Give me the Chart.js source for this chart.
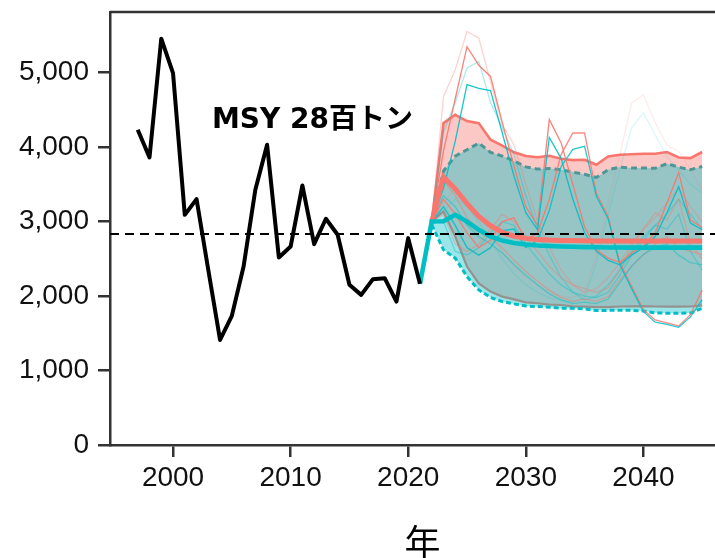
<!DOCTYPE html>
<html>
<head>
<meta charset="utf-8">
<script src="https://cdn.jsdelivr.net/npm/chart.js@4/dist/chart.umd.min.js"></script>
<style>
  html, body { margin: 0; padding: 0; background: #fff; width: 715px; height: 558px; overflow: hidden; }
  canvas { display: block; }
</style>
</head>
<body>
<canvas id="chart" width="735" height="558"></canvas>
<script>
// Observed catch (tonnes), 1997-2021
const histYears = [1997, 1998, 1999, 2000, 2001, 2002, 2003, 2004, 2005, 2006, 2007, 2008, 2009,
                   2010, 2011, 2012, 2013, 2014, 2015, 2016, 2017, 2018, 2019, 2020, 2021];
const histCatch = [4234, 3862, 5457, 4995, 3091, 3302, 2350, 1411, 1734, 2397, 3427, 4032, 2518,
                   2665, 3485, 2697, 3038, 2823, 2151, 2016, 2227, 2240, 1926, 2778, 2164];

// Projection years
const projYears = [2022, 2023, 2024, 2025, 2026, 2027, 2028, 2029, 2030, 2031, 2032, 2033,
                   2034, 2035, 2036, 2037, 2038, 2039, 2040, 2041, 2042, 2043, 2044, 2045];

// Teal scenario: median starts from the last observed year
const tealMedianYears = [2021].concat(projYears);
const tealMedian = [2164, 3001, 3005, 3091, 3000, 2890, 2800, 2745, 2712, 2692, 2680, 2672, 2666,
                    2662, 2658, 2655, 2653, 2652, 2651, 2650, 2650, 2650, 2650, 2650, 2650];
const tealUpper = [3001, 3680, 3880, 3965, 4055, 3930, 3880, 3815, 3735, 3705, 3714, 3696,
                   3665, 3635, 3593, 3696, 3732, 3720, 3720, 3716, 3777, 3732, 3696, 3741];
const tealLower = [2957, 2621, 2509, 2262, 2083, 1980, 1926, 1895, 1868, 1859, 1850, 1837,
                   1835, 1830, 1805, 1808, 1810, 1808, 1800, 1775, 1770, 1770, 1772, 1837];

// Red scenario
const redMedian = [3001, 3600, 3440, 3240, 3069, 2945, 2855, 2805, 2775, 2760, 2752, 2748,
                   2745, 2742, 2740, 2740, 2740, 2740, 2740, 2740, 2740, 2740, 2740, 2740];
const redUpper = [3001, 4323, 4435, 4350, 4323, 4100, 4020, 3930, 3880, 3865, 3884, 3845,
                  3826, 3831, 3763, 3875, 3898, 3905, 3911, 3911, 3935, 3862, 3853, 3935];
const redLower = [3001, 3136, 2800, 2397, 2170, 2060, 1993, 1955, 1915, 1904, 1885, 1880,
                  1862, 1858, 1851, 1851, 1860, 1862, 1865, 1860, 1858, 1858, 1860, 1875];

// Example simulation runs (red / teal pairs)
const redRun1 = [3001, 3950, 4650, 5350, 5100, 4950, 4330, 3740, 3200, 2950, 4370, 4060,
                 3500, 2930, 2620, 2510, 2450, 2580, 2670, 2850, 3250, 3660, 3020, 2920];
const tealRun1 = [3001, 3450, 4080, 4840, 4790, 4760, 4190, 3610, 3120, 2890, 4130, 3850,
                  3300, 2850, 2600, 2480, 2420, 2550, 2650, 2800, 3120, 3470, 2980, 2890];
const redRun2 = [3001, 3300, 3100, 2850, 2650, 2750, 3000, 3050, 2750, 2850, 3300, 3900,
                 4190, 4190, 3380, 3070, 2450, 2130, 1815, 1680, 1640, 1600, 1750, 2080];
const tealRun2 = [3001, 3200, 2950, 2650, 2550, 2650, 2880, 2900, 2650, 2750, 3150, 3740,
                  3970, 4010, 3340, 3040, 2420, 2100, 1790, 1650, 1620, 1580, 1720, 1950];
const redRun3 = [3001, 4680, 5040, 5555, 5466, 4880, 4300, 4030, 3500, 3000, 2650, 2350,
                 2150, 2050, 2100, 2250, 2450, 2700, 2900, 3050, 3250, 3450, 3200, 3000];
const tealRun3 = [3001, 4200, 4600, 5063, 5152, 4600, 4260, 3898, 3350, 2900, 2550, 2250,
                  2050, 1950, 2000, 2150, 2350, 2600, 2800, 2950, 3100, 3300, 3100, 2900];
const redRun4 = [3001, 3250, 3450, 3300, 3100, 2850, 2600, 2400, 2250, 2150, 2050, 2000,
                 1980, 2050, 2550, 3250, 3900, 4593, 4704, 4328, 4032, 3942, 3700, 3427];
const tealRun4 = [3001, 3150, 3300, 3200, 3000, 2750, 2500, 2300, 2150, 2050, 1980, 1940,
                  1920, 1980, 2450, 3100, 3700, 4260, 4462, 4167, 3875, 3690, 3500, 3380];
const redRun5 = [3001, 3550, 3350, 3050, 2900, 2780, 2650, 2480, 2330, 2200, 2080, 1980,
                 1930, 1960, 1930, 1990, 2220, 2400, 2550, 2700, 2800, 2650, 2600, 2560];
const tealRun5 = [3001, 3350, 3200, 2950, 2800, 2700, 2580, 2420, 2280, 2150, 2030, 1950,
                  1900, 1920, 1900, 1960, 2180, 2400, 2560, 2650, 2700, 2550, 2450, 2420];
const redRun6 = [3001, 3100, 2700, 2600, 2700, 2900, 3100, 3000, 2800, 2600, 2400, 2250,
                 2150, 2100, 2050, 2110, 2350, 2665, 2900, 3118, 3024, 3300, 2700, 2500];
const tealRun6 = [3001, 3000, 2600, 2550, 2650, 2850, 3000, 2950, 2700, 2500, 2300, 2150,
                  2050, 2000, 1980, 2050, 2280, 2550, 2750, 2950, 2900, 3100, 2600, 2350];

// Maximum sustainable yield (tonnes)
const MSY = 2835;

// Axis ticks
const xTicks = [2000, 2010, 2020, 2030, 2040];
const yTicks = [0, 1000, 2000, 3000, 4000, 5000];

const RED = '248,118,109';
const TEAL = '0,191,196';

const pts = (xs, ys) => xs.map((x, i) => ({ x: x, y: ys[i] }));

function lineDs(xs, ys, color, width, order, extra) {
  return Object.assign({
    data: pts(xs, ys),
    borderColor: color,
    borderWidth: width,
    pointRadius: 0,
    pointHoverRadius: 0,
    tension: 0,
    fill: false,
    order: order
  }, extra || {});
}

const runs = [
  [redRun4, tealRun4, 0.14],
  [redRun3, tealRun3, 0.32],
  [redRun6, tealRun6, 0.38],
  [redRun5, tealRun5, 0.45],
  [redRun2, tealRun2, 0.85],
  [redRun1, tealRun1, 0.9]
];

const datasets = [];
// 0: red lower edge
datasets.push(lineDs(projYears, redLower, `rgb(${RED})`, 2.2, 100));
// 1: red upper edge, band filled down to dataset 0
datasets.push(lineDs(projYears, redUpper, `rgb(${RED})`, 2.6, 95,
  { fill: { target: 0 }, backgroundColor: `rgba(${RED},0.4)` }));
// 2: teal lower edge
datasets.push(lineDs(projYears, tealLower, `rgb(${TEAL})`, 3, 90,
  { borderDash: [5, 3] }));
// 3: teal upper edge, band filled down to dataset 2
datasets.push(lineDs(projYears, tealUpper, 'rgb(78,150,150)', 3, 85,
  { borderDash: [6, 4], fill: { target: 2 }, backgroundColor: `rgba(${TEAL},0.4)` }));

// simulation runs
runs.forEach((r, i) => {
  datasets.push(lineDs(projYears, r[0], `rgba(${RED},${r[2]})`, 1.3, 60 - i * 2));
  datasets.push(lineDs(projYears, r[1], `rgba(${TEAL},${r[2]})`, 1.3, 59 - i * 2));
});

// medians and observed catch
datasets.push(lineDs(projYears, redMedian, `rgb(${RED})`, 5, 20));
datasets.push(lineDs(tealMedianYears, tealMedian, `rgb(${TEAL})`, 4.6, 15));
datasets.push(lineDs(histYears, histCatch, '#000', 4, 5, { borderJoinStyle: 'round' }));

const AXIS = '#333';

// Panel frame, MSY reference line and texts
const decorations = {
  id: 'decorations',
  afterDatasetsDraw(chart) {
    const { ctx, chartArea: a, scales } = chart;
    const yMsy = scales.y.getPixelForValue(MSY);
    ctx.save();
    ctx.strokeStyle = '#000';
    ctx.lineWidth = 2;
    ctx.setLineDash([9, 6]);
    ctx.beginPath();
    ctx.moveTo(a.left, yMsy);
    ctx.lineTo(a.right, yMsy);
    ctx.stroke();
    ctx.setLineDash([]);

    ctx.strokeStyle = AXIS;
    ctx.lineWidth = 2.5;
    ctx.beginPath();
    ctx.moveTo(a.left, a.top);
    ctx.lineTo(a.right, a.top);
    ctx.lineTo(a.right, a.bottom);
    ctx.stroke();

    ctx.fillStyle = '#000';
    ctx.font = 'bold 28px "DejaVu Sans", "Noto Sans CJK JP", sans-serif';
    ctx.textAlign = 'left';
    ctx.textBaseline = 'alphabetic';
    ctx.fillText(`MSY ${Math.round(MSY / 100)}百トン`, 212, 128);

    ctx.font = '36px "Noto Sans CJK JP", sans-serif';
    ctx.textAlign = 'center';
    ctx.fillText('年', (a.left + a.right) / 2, 556);
    ctx.restore();
  }
};

// keep the panel edges where the layout puts them (no label overhang padding)
const noPad = s => { s.paddingTop = 0; s.paddingBottom = 0; s.paddingLeft = 0; s.paddingRight = 0; };

new Chart(document.getElementById('chart'), {
  type: 'line',
  data: { datasets: datasets },
  plugins: [decorations],
  options: {
    responsive: false,
    animation: false,
    devicePixelRatio: 1,
    layout: { padding: { top: 12, right: 0, left: 0, bottom: 0 } },
    plugins: {
      legend: { display: false },
      tooltip: { enabled: false },
      filler: { propagate: false }
    },
    scales: {
      x: {
        type: 'linear',
        min: 1994.64,
        max: 2047.79,
        afterBuildTicks: s => { s.ticks = xTicks.map(v => ({ value: v })); },
        afterFit: s => { s.height = 113; noPad(s); },
        ticks: {
          color: '#111',
          font: { family: '"Liberation Sans", Arial, sans-serif', size: 28 },
          padding: 4,
          maxRotation: 0,
          autoSkip: false,
          callback: v => String(v)
        },
        grid: { display: true, drawOnChartArea: false, drawTicks: true, tickLength: 12,
                tickColor: AXIS, tickWidth: 2.5, lineWidth: 2.5, color: AXIS },
        border: { display: true, color: AXIS, width: 2.5 }
      },
      y: {
        type: 'linear',
        min: 0,
        max: 5815,
        afterBuildTicks: s => { s.ticks = yTicks.map(v => ({ value: v })); },
        afterFit: s => { s.width = 110; noPad(s); },
        ticks: {
          color: '#111',
          font: { family: '"Liberation Sans", Arial, sans-serif', size: 28 },
          padding: 9,
          callback: v => v.toLocaleString('en-US')
        },
        grid: { display: true, drawOnChartArea: false, drawTicks: true, tickLength: 12,
                tickColor: AXIS, tickWidth: 2.5, lineWidth: 2.5, color: AXIS },
        border: { display: true, color: AXIS, width: 2.5 }
      }
    }
  }
});
</script>
</body>
</html>
